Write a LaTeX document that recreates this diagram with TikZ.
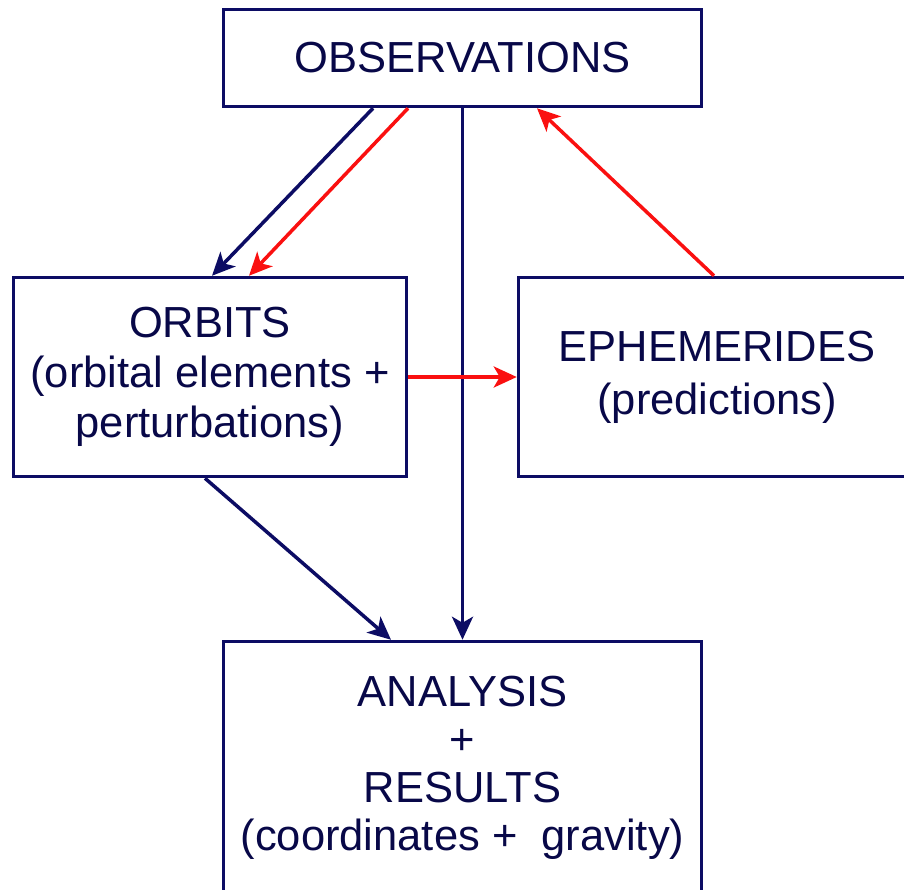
\documentclass[tikz,border=0pt]{standalone}
\usepackage{fontspec}
\setmainfont{Liberation Sans}
\usetikzlibrary{arrows.meta}
\definecolor{boxnavy}{RGB}{12,12,100}
\definecolor{textnavy}{RGB}{8,8,72}
\definecolor{flowred}{RGB}{250,16,16}
\tikzset{
    box/.style={draw=boxnavy, line width=3.5pt, text=textnavy, align=center, inner sep=2pt, font={\fontsize{43.5}{50}\selectfont}},
    flow/.style={-{Stealth[length=23pt, width=21pt, inset=6pt]}, line width=3.5pt},
}
\begin{document}
\begin{tikzpicture}[x=1pt, y=-1pt]
        \useasboundingbox (0,0) rectangle (904,889);
        \clip (0,0) rectangle (904,889);

        \node (OBS) at (462.5,  58) [box, minimum width=478pt, minimum height=97pt ] {OBSERVATIONS};
        \node (ORB) at (210,   377) [box, minimum width=393pt, minimum height=199pt] {ORBITS\\(orbital elements +\\perturbations)};
        \node (EPH) at (717,   377) [box, minimum width=397pt, minimum height=199pt, font={\fontsize{43.5}{53}\selectfont}] {EPHEMERIDES\\(predictions)};
        \node (RES) at (462.5, 768) [box, minimum width=478pt, minimum height=253pt, font={\fontsize{43.5}{48}\selectfont}] {ANALYSIS\\+\\RESULTS\\(coordinates +~~gravity)};

        % OBS -> ORB
        \draw[flow, boxnavy] ([xshift=-89.5pt]OBS.south) -- ([xshift=2pt]ORB.north);
        % OBS -> ORB
        \draw[flow, flowred] ([xshift=-54.5pt]OBS.south) -- ([xshift=39pt]ORB.north);
        % OBS -> RES
        \draw[flow, boxnavy] (OBS.south) -- (RES.north);
        % EPH -> OBS
        \draw[flow, flowred] ([xshift=-3pt]EPH.north) -- ([xshift=74.5pt]OBS.south);
        % ORB -> EPH
        \draw[flow, flowred] (ORB.east) -- (EPH.west);
        % ORB -> RES
        \draw[flow, boxnavy] ([xshift=-5pt]ORB.south) -- ([xshift=-71.5pt]RES.north);
    \end{tikzpicture}
\end{document}
